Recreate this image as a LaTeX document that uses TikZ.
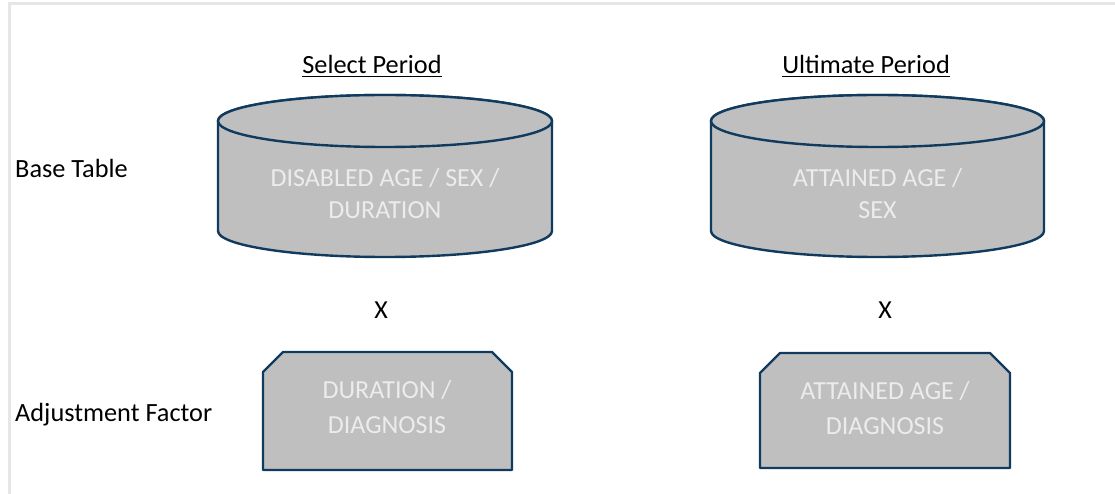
\documentclass[tikz,border=0pt]{standalone}
\usepackage{fontspec}
\setmainfont{Carlito}
\definecolor{navy}{RGB}{16,58,94}
\definecolor{boxfill}{RGB}{191,191,191}
\definecolor{boxtext}{RGB}{236,236,236}
\definecolor{framegray}{RGB}{230,230,230}
\begin{document}
\begin{tikzpicture}[x=1pt,y=1pt,
  shapestyle/.style={draw=navy,fill=boxfill,line width=2.4pt,line join=round},
  inner/.style={text=boxtext,align=center,font=\fontsize{26}{32}\selectfont},
  innerb/.style={text=boxtext,align=center,font=\fontsize{26}{35}\selectfont},
  lbl/.style={anchor=west,inner sep=0pt,font=\fontsize{26.3}{31}\selectfont},
  hdr/.style={inner sep=0pt,font=\fontsize{26.3}{31}\selectfont},
  uline/.style={line width=1.6pt},
  xmark/.style={inner sep=0pt,font=\fontsize{26}{31}\selectfont}]
\useasboundingbox (0,0) rectangle (1115,493);
\fill[white] (0,0) rectangle (1115,493);
% frame (top and left edges)
\draw[framegray,line width=3pt] (9.5,-5) -- (9.5,489.5) -- (1120,489.5);
% left cylinder
\path[shapestyle] (218,372) -- (218,262) arc[start angle=180,end angle=360,x radius=167,y radius=26] -- (552,372) arc[start angle=0,end angle=180,x radius=167,y radius=26] -- cycle;
\draw[shapestyle] (385,372) ellipse[x radius=167,y radius=26];
\node[inner] (selbase) at (385,299) {DISABLED AGE / SEX /\\DURATION};
% right cylinder
\path[shapestyle] (711,372) -- (711,262) arc[start angle=180,end angle=360,x radius=166.5,y radius=26] -- (1044,372) arc[start angle=0,end angle=180,x radius=166.5,y radius=26] -- cycle;
\draw[shapestyle] (877.5,372) ellipse[x radius=166.5,y radius=26];
\node[inner] (ultbase) at (877.5,299) {ATTAINED AGE /\\SEX};
% adjustment boxes
\path[shapestyle] (263,23) -- (263,121) -- (283,141) -- (492,141) -- (512,121) -- (512,23) -- cycle;
\node[innerb] (seladj) at (387,86) {DURATION /\\DIAGNOSIS};
\path[shapestyle] (760,25) -- (760,120) -- (780,140) -- (990,140) -- (1010,120) -- (1010,25) -- cycle;
\node[innerb] (ultadj) at (885,85) {ATTAINED AGE /\\DIAGNOSIS};
% labels
\node[lbl] (basetable) at (15,325) {Base Table};
\node[lbl] (adjfactor) at (15,78) {Adjustment Factor};
\node[hdr] (selhdr) at (372,429) {Select Period};
\draw[uline] ([yshift=-3pt]selhdr.south west) -- ([yshift=-3pt]selhdr.south east);
\node[hdr] (ulthdr) at (866,429) {Ultimate Period};
\draw[uline] ([yshift=-3pt]ulthdr.south west) -- ([yshift=-3pt]ulthdr.south east);
\node[xmark] (x1) at (381,183) {X};
\node[xmark] (x2) at (885,183) {X};
\end{tikzpicture}
\end{document}
